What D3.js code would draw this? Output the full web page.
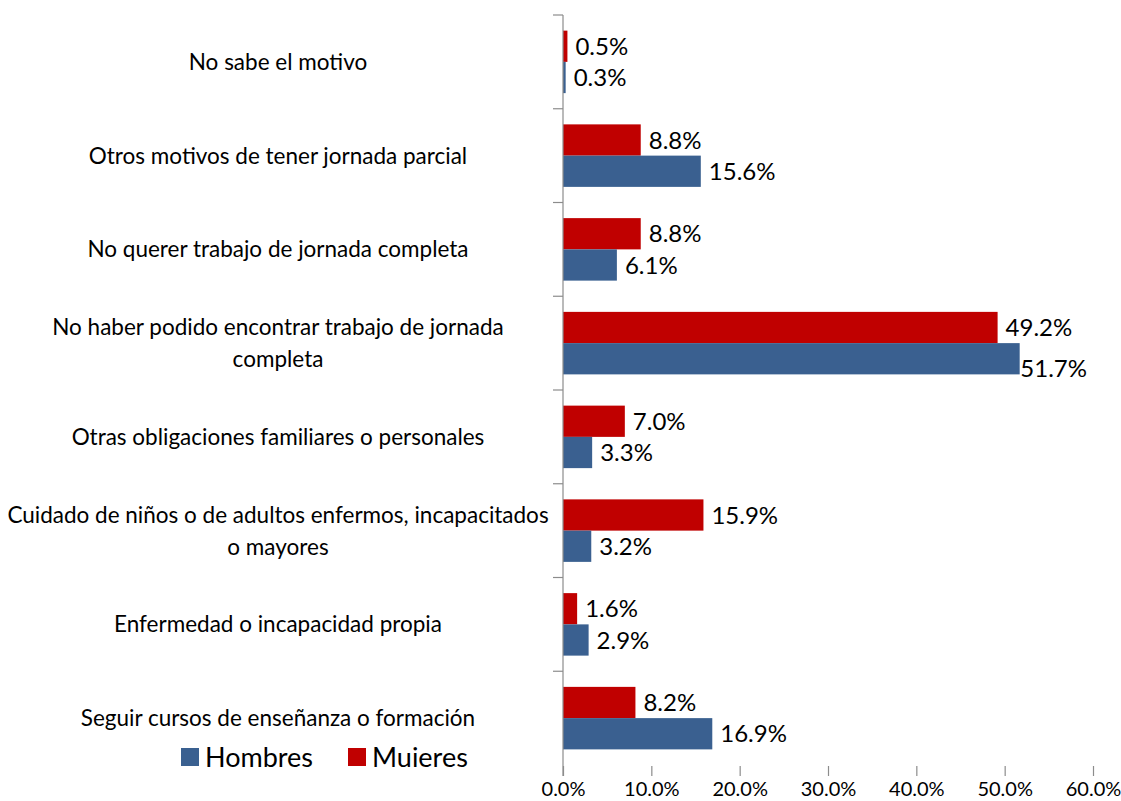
<!DOCTYPE html>
<html>
<head>
<meta charset="utf-8">
<script src="https://cdn.jsdelivr.net/npm/d3@7"></script>
<style>
  body { margin: 0; background: #fff; }
  svg text { font-family: Lato, "Open Sans", sans-serif; fill: #000; }
</style>
</head>
<body>
<svg width="1121" height="801"></svg>
<script>
'use strict'

// categories, top to bottom
var categories = [
  'No sabe el motivo',
  'Otros motivos de tener jornada parcial',
  'No querer trabajo de jornada completa',
  'No haber podido encontrar trabajo de jornada completa',
  'Otras obligaciones familiares o personales',
  'Cuidado de niños o de adultos enfermos, incapacitados o mayores',
  'Enfermedad o incapacidad propia',
  'Seguir cursos de enseñanza o formación'
]

var mujeres = [0.5, 8.8, 8.8, 49.2, 7.0, 15.9, 1.6, 8.2]
var hombres = [0.3, 15.6, 6.1, 51.7, 3.3, 3.2, 2.9, 16.9]

var xTicks = [0, 10, 20, 30, 40, 50, 60]
var legendItems = ['Hombres', 'Mujeres']

var colours = { Hombres: '#3A6090', Mujeres: '#C00000' }

var svg = d3.select('svg')

var config = {
  axisX: 563,
  right: 1093,
  top: 15,
  bottom: 765,
  wrapWidth: 544,
  labelCentre: 278,
  lineHeight: 32
}

var x = d3.scaleLinear()
  .domain([0, 60])
  .range([config.axisX, config.right])

var y = d3.scaleBand()
  .domain(categories)
  .range([config.top, config.bottom])

var inner = d3.scaleBand()
  .domain(['Mujeres', 'Hombres'])
  .range([0, y.bandwidth()])
  .paddingOuter(0.5)

var rows = categories.map(function(c, i) {
  return { cat: c, Mujeres: mujeres[i], Hombres: hombres[i] }
})

// bars
var group = svg.append('g').attr('class', 'bars')
  .selectAll('g')
  .data(rows)
  .enter().append('g')
  .attr('transform', function(d) { return 'translate(0,' + y(d.cat) + ')' })

group.selectAll('rect')
  .data(function(d) {
    return inner.domain().map(function(k) { return { key: k, value: d[k] } })
  })
  .enter().append('rect')
  .attr('x', x(0))
  .attr('y', function(d) { return inner(d.key) })
  .attr('width', function(d) { return x(d.value) - x(0) })
  .attr('height', inner.bandwidth())
  .attr('fill', function(d) { return colours[d.key] })

// value labels
group.selectAll('text')
  .data(function(d) {
    return inner.domain().map(function(k) { return { key: k, value: d[k] } })
  })
  .enter().append('text')
  .attr('x', function(d) { return x(d.value) + 8 })
  .attr('y', function(d) { return inner(d.key) + inner.bandwidth() / 2 })
  .attr('dy', '0.36em')
  .style('font-size', '24px')
  .text(function(d) { return d.value.toFixed(1) + '%' })
  .each(function() {
    // keep labels inside the plot area, like excel does
    var t = d3.select(this)
    var w = this.getComputedTextLength()
    var x0 = +t.attr('x')
    if (x0 + w > config.right - 6) {
      t.attr('x', config.right - 6 - w)
      t.attr('y', +t.attr('y') + 10)
    }
  })

// vertical axis line + category ticks
svg.append('line')
  .attr('x1', config.axisX).attr('x2', config.axisX)
  .attr('y1', config.top).attr('y2', config.bottom + 11)
  .attr('stroke', '#8c8c8c')
  .attr('stroke-width', 1.2)

svg.append('g').selectAll('line')
  .data(categories)
  .enter().append('line')
  .attr('x1', config.axisX - 10).attr('x2', config.axisX)
  .attr('y1', function(d) { return y(d) })
  .attr('y2', function(d) { return y(d) })
  .attr('stroke', '#8c8c8c')
  .attr('stroke-width', 1.2)

// category labels
svg.append('g').selectAll('text')
  .data(categories)
  .enter().append('text')
  .attr('text-anchor', 'middle')
  .style('font-size', '22.5px')
  .each(function(d) {
    var t = d3.select(this)
    var words = d.split(' ')
    var lines = []
    var line = []
    var tmp = t.append('tspan')
    words.forEach(function(w) {
      line.push(w)
      tmp.text(line.join(' '))
      if (tmp.node().getComputedTextLength() > config.wrapWidth && line.length > 1) {
        line.pop()
        lines.push(line.join(' '))
        line = [w]
      }
    })
    lines.push(line.join(' '))
    tmp.remove()
    var cy = y(d) + y.bandwidth() / 2
    lines.forEach(function(l, i) {
      t.append('tspan')
        .attr('x', config.labelCentre)
        .attr('y', cy + (i - (lines.length - 1) / 2) * config.lineHeight)
        .attr('dy', '0.36em')
        .text(l)
    })
  })

// x axis (ticks + labels only)
var xAxis = d3.axisBottom(x)
  .tickValues(xTicks)
  .tickSize(10)
  .tickFormat(function(d) { return d.toFixed(1) + '%' })

var gx = svg.append('g')
  .attr('transform', 'translate(0,' + (config.bottom + 1) + ')')
  .call(xAxis)

gx.select('.domain').remove()
gx.selectAll('.tick line').attr('stroke', '#8c8c8c').attr('stroke-width', 1.2)
gx.selectAll('.tick text')
  .attr('y', 16)
  .style('font-size', '20px')
  .style('font-family', 'Lato, "Open Sans", sans-serif')
  .attr('fill', '#000')

// legend, clipped at the bottom like the original
svg.append('clipPath').attr('id', 'legend-clip')
  .append('rect')
  .attr('x', 0).attr('y', 0)
  .attr('width', 560).attr('height', 767)

var legend = svg.append('g')
  .attr('clip-path', 'url(#legend-clip)')
  .selectAll('g')
  .data(legendItems)
  .enter().append('g')
  .attr('transform', function(d, i) { return 'translate(' + (181 + i * 167) + ',748)' })

legend.append('rect')
  .attr('width', 18).attr('height', 18)
  .attr('fill', function(d) { return colours[d] })

legend.append('text')
  .attr('x', 24)
  .attr('y', 19)
  .style('font-size', '27px')
  .text(function(d) { return d })
</script>
</body>
</html>
